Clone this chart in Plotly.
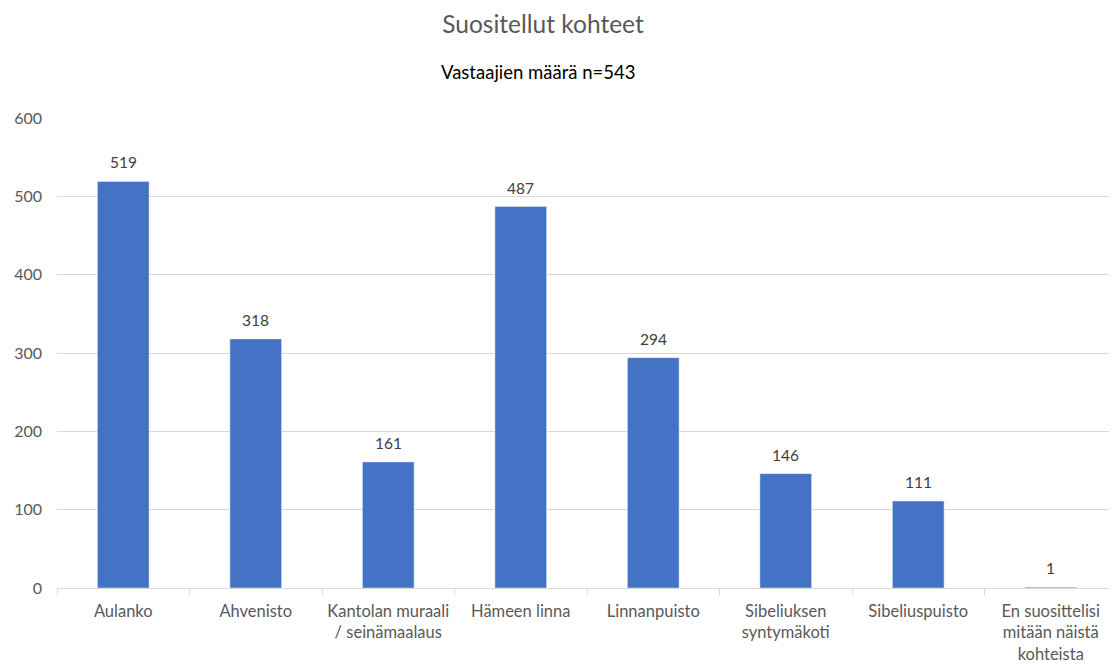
import plotly.graph_objects as go

categories = [
    "Aulanko",
    "Ahvenisto",
    "Kantolan muraali<br>/ seinämaalaus",
    "Hämeen linna",
    "Linnanpuisto",
    "Sibeliuksen<br>syntymäkoti",
    "Sibeliuspuisto",
    "En suosittelisi<br>mitään näistä<br>kohteista",
]
values = [519, 318, 161, 487, 294, 146, 111, 1]
y_ticks = [0, 100, 200, 300, 400, 500, 600]

FONT = "Lato, Carlito, Calibri, sans-serif"

# the page renders with an 8px body offset, so the figure is made 8px smaller
W, H = 1109, 656
L, T, R, B = 49, 110, 0, 76
plot_h = H - T - B

fig = go.Figure(
    go.Bar(
        x=categories,
        y=values,
        marker_color="#4472C4",
        hoverinfo="x+y",
    )
)

label_annotations = [
    dict(
        x=c,
        y=v,
        xref="x",
        yref="y",
        text=str(v),
        showarrow=False,
        yanchor="bottom",
        yshift=8,
        font=dict(family=FONT, size=15.5, color="#404040"),
    )
    for c, v in zip(categories, values)
]

fig.update_layout(
    width=W,
    height=H,
    margin=dict(l=L, r=R, t=T, b=B, autoexpand=False),
    paper_bgcolor="white",
    plot_bgcolor="white",
    bargap=0.61,
    showlegend=False,
    font=dict(family=FONT, size=16, color="#595959"),
    title=dict(
        text="Suositellut kohteet",
        x=(543 - 8) / W,
        xanchor="center",
        y=1 - 16 / H,
        yanchor="middle",
        font=dict(family=FONT, size=24.5, color="#595959"),
    ),
    annotations=[
        dict(
            text="Vastaajien määrä n=543",
            xref="paper",
            yref="paper",
            x=(538 - 8 - L) / (W - L - R),
            y=1 + (T - (72 - 8)) / plot_h,
            xanchor="center",
            yanchor="middle",
            showarrow=False,
            font=dict(family=FONT, size=18.5, color="#000000"),
        )
    ]
    + label_annotations,
)

fig.update_yaxes(
    range=[0, 600],
    tickvals=y_ticks,
    showgrid=True,
    gridcolor="#d9d9d9",
    gridwidth=1,
    zeroline=False,
    showline=False,
    ticks="",
    ticklabelstandoff=14,
    tickfont=dict(family=FONT, size=16, color="#595959"),
)

fig.update_xaxes(
    showline=True,
    linecolor="#d9d9d9",
    linewidth=1,
    ticks="outside",
    tickson="boundaries",
    ticklen=6,
    tickcolor="#d9d9d9",
    ticklabelstandoff=8,
    tickfont=dict(family=FONT, size=16.5, color="#595959"),
)

fig.write_html("out.html")
